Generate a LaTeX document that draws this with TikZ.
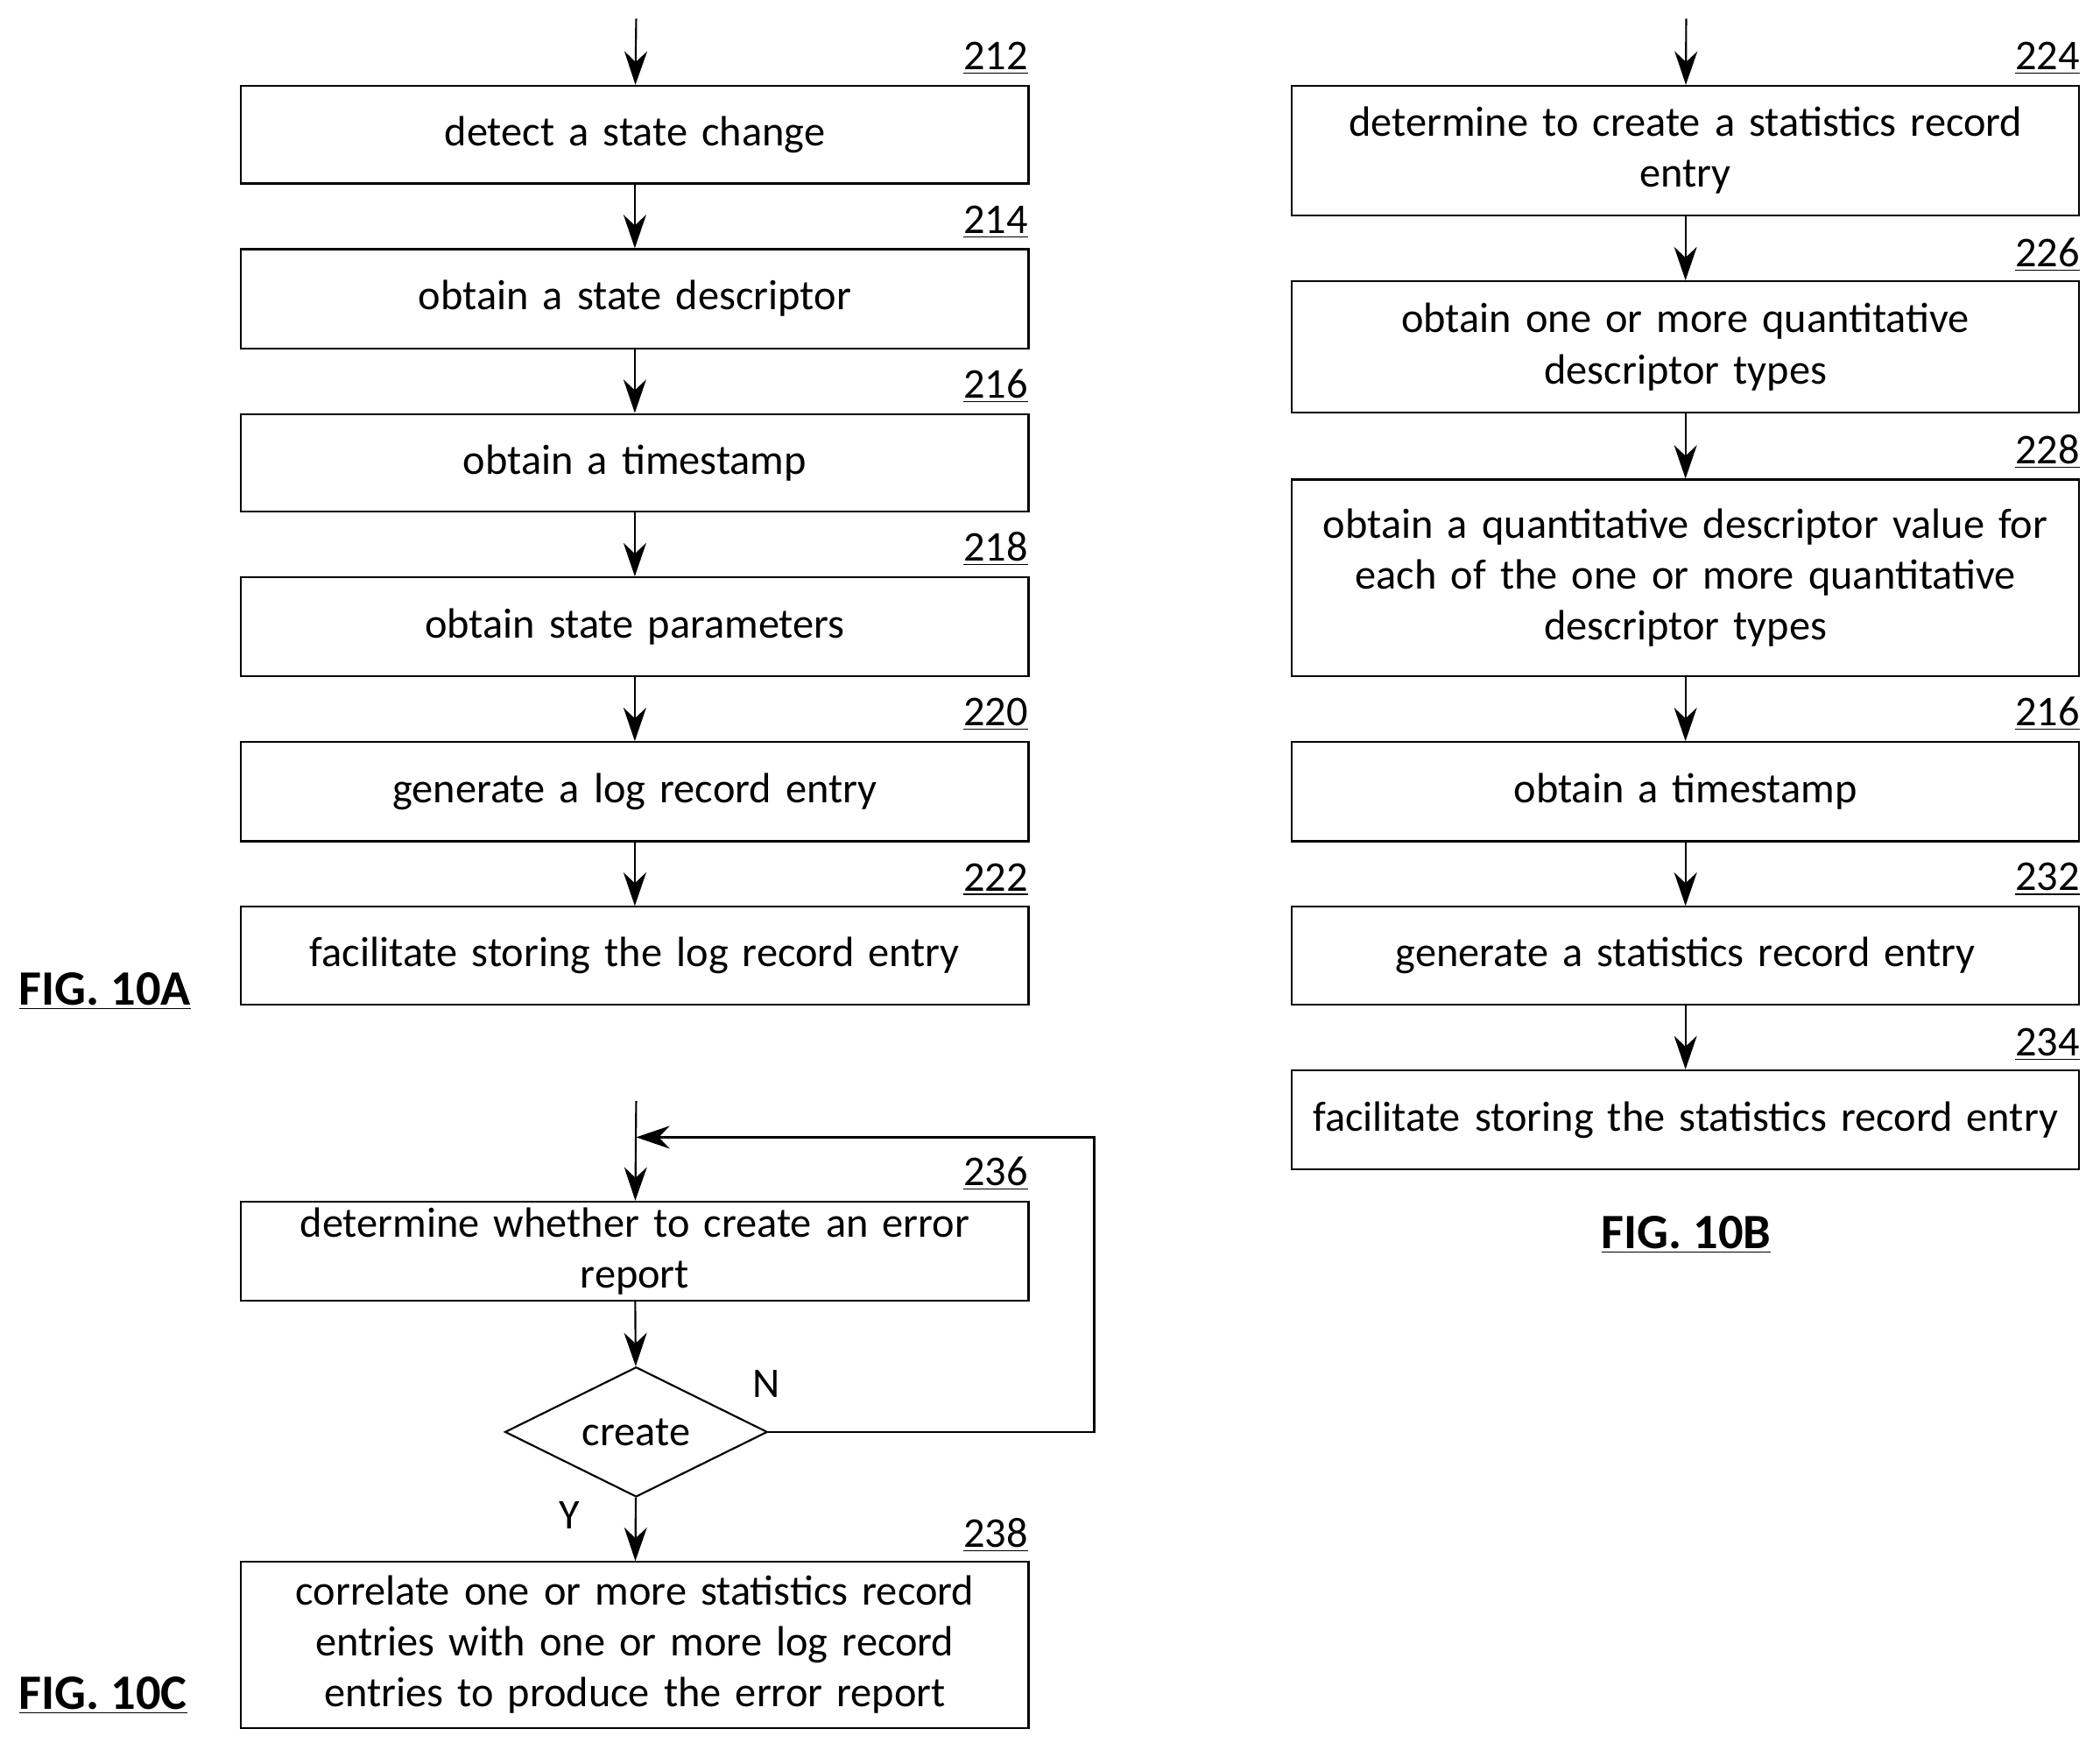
\documentclass[tikz,border=0pt]{standalone}
\usepackage{fontspec}
\setmainfont{Carlito}
\usetikzlibrary{positioning,shapes.geometric,arrows.meta}
\tikzset{
  stepbox/.style={draw, thick, rectangle, minimum width=11.76cm, text width=11.4cm, align=center, inner sep=0pt},
  num/.style={anchor=south east, inner sep=0pt},
  flow/.style={thick, -{Stealth[length=5mm,width=3.4mm,inset=1.6mm]}},
  figlabel/.style={font=\bfseries\fontsize{21}{25}\selectfont}
}
\begin{document}
\begin{tikzpicture}[x=0.02cm, y=-0.02cm, font=\fontsize{18}{21.6}\selectfont]
\useasboundingbox (0,0) rectangle (1568,1306);
% FIG. 10A
\coordinate (topa) at (475,14);
\node[stepbox, minimum height=1.46cm] (s212) at (474,100.5) {detect a state change};
\node[stepbox, minimum height=1.48cm] (s214) at (474,223) {obtain a state descriptor};
\node[stepbox, minimum height=1.46cm] (s216) at (474,345.5) {obtain a timestamp};
\node[stepbox, minimum height=1.48cm] (s218) at (474,468) {obtain state parameters};
\node[stepbox, minimum height=1.48cm] (s220) at (474,591) {generate a log record entry};
\node[stepbox, minimum height=1.46cm] (s222) at (474,713.5) {facilitate storing the log record entry};
\node[num] at (768,56) {\underline{212}};
\node[num] at (768,178) {\underline{214}};
\node[num] at (768,301) {\underline{216}};
\node[num] at (768,423) {\underline{218}};
\node[num] at (768,546) {\underline{220}};
\node[num] at (768,669) {\underline{222}};
\node[figlabel, anchor=west, inner sep=0pt] (figa) at (14,740) {\underline{FIG. 10A}};
\draw[flow] (topa) -- (s212);
\draw[flow] (s212) -- (s214);
\draw[flow] (s214) -- (s216);
\draw[flow] (s216) -- (s218);
\draw[flow] (s218) -- (s220);
\draw[flow] (s220) -- (s222);
% FIG. 10B
\coordinate (topb) at (1259,14);
\node[stepbox, minimum height=1.94cm] (s224) at (1258.5,112.5) {determine to create a statistics record\\entry};
\node[stepbox, minimum height=1.96cm] (s226) at (1258.5,259) {obtain one or more quantitative\\descriptor types};
\node[stepbox, minimum height=2.94cm] (s228) at (1258.5,431.5) {obtain a quantitative descriptor value for\\each of the one or more quantitative\\descriptor types};
\node[stepbox, minimum height=1.48cm] (s216b) at (1258.5,591) {obtain a timestamp};
\node[stepbox, minimum height=1.46cm] (s232) at (1258.5,713.5) {generate a statistics record entry};
\node[stepbox, minimum height=1.48cm] (s234) at (1258.5,836) {facilitate storing the statistics record entry};
\node[num] at (1553,56) {\underline{224}};
\node[num] at (1553,203) {\underline{226}};
\node[num] at (1553,350) {\underline{228}};
\node[num] at (1553,546) {\underline{216}};
\node[num] at (1553,669) {\underline{232}};
\node[num] at (1553,792) {\underline{234}};
\node[figlabel] (figb) at (1259,922) {\underline{FIG. 10B}};
\draw[flow] (topb) -- (s224);
\draw[flow] (s224) -- (s226);
\draw[flow] (s226) -- (s228);
\draw[flow] (s228) -- (s216b);
\draw[flow] (s216b) -- (s232);
\draw[flow] (s232) -- (s234);
% FIG. 10C
\coordinate (topc) at (475,822);
\coordinate (loop) at (475,849);
\node[stepbox, minimum height=1.48cm] (s236) at (474,934) {determine whether to create an error\\report};
\node[draw, thick, diamond, aspect=2, minimum width=3.92cm, minimum height=1.94cm, inner sep=0pt] (create) at (475,1069) {create};
\node[stepbox, minimum height=2.48cm] (s238) at (474,1228) {correlate one or more statistics record\\entries with one or more log record\\entries to produce the error report};
\node[num] at (768,889) {\underline{236}};
\node[num] at (768,1159) {\underline{238}};
\node (nlab) at (572,1033) {N};
\node (ylab) at (425,1131) {Y};
\node[figlabel, anchor=west, inner sep=0pt] (figc) at (14,1266) {\underline{FIG. 10C}};
\draw[flow] (topc) -- (s236);
\draw[flow] (s236) -- (create);
\draw[flow] (create.east) -- (817,1069) -- (817,849) -- (loop);
\draw[flow] (create) -- (s238);
\end{tikzpicture}
\end{document}
